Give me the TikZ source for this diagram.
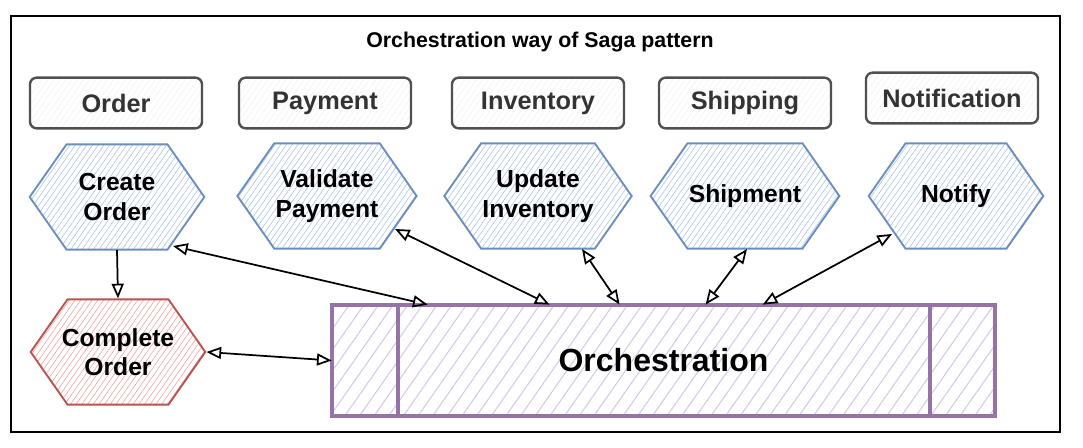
\documentclass[tikz,border=0pt]{standalone}
\usepackage{fontspec}
\setmainfont{Liberation Sans}
\usetikzlibrary{shapes.symbols,patterns.meta,arrows.meta,calc}
\definecolor{svcblue}{RGB}{108,142,191}
\definecolor{svchatch}{RGB}{175,200,235}
\definecolor{donered}{RGB}{184,84,80}
\definecolor{donehatch}{RGB}{240,170,168}
\definecolor{orchpurple}{RGB}{150,115,166}
\definecolor{orchhatch}{RGB}{215,200,228}
\definecolor{domaingray}{RGB}{80,80,80}
\definecolor{domainhatch}{RGB}{222,222,222}
\definecolor{domaintext}{RGB}{51,51,51}

\begin{document}
\begin{tikzpicture}[
    x=0.75pt, y=-0.75pt,
    domainbox/.style={rectangle, rounded corners=5pt, draw=domaingray, line width=1.8pt, minimum width=129pt, minimum height=38pt, text=domaintext, font=\fontsize{19}{22}\selectfont\bfseries, pattern={Lines[angle=55,distance=4pt,line width=0.3pt]}, pattern color=domainhatch},
    stepbox/.style={signal, signal to=east and west, signal pointer angle=110, draw=svcblue, line width=1.4pt, minimum width=131pt, minimum height=79pt, inner sep=1pt, align=center, font=\fontsize{18.5}{22}\selectfont\bfseries, pattern={Lines[angle=55,distance=3.5pt,line width=0.5pt]}, pattern color=svchatch},
    donebox/.style={stepbox, draw=donered, pattern color=donehatch, inner xsep=-5pt},
    link/.style={{Triangle[open,length=11pt,width=9pt]}-{Triangle[open,length=11pt,width=9pt]}, line width=1.3pt},
]
\useasboundingbox (0,0) rectangle (1083,448);

% Frame and title
\draw[line width=1.6pt] (11,16) rectangle (1060,432);
\node[font=\fontsize{16}{19}\selectfont\bfseries] (title) at (540,42) {Orchestration way of Saga pattern};

% Services
\node[domainbox] (order) at (116,103) {Order};
\node[domainbox] (payment) at (325,103) {Payment};
\node[domainbox] (inventory) at (538,103) {Inventory};
\node[domainbox] (shipping) at (745,103) {Shipping};
\node[domainbox] (notification) at (952,98) {Notification};

% Steps
\node[stepbox] (create) at (117,197) {Create\\Order};
\node[stepbox] (validate) at (327,196) {Validate\\Payment};
\node[stepbox] (update) at (538,196) {Update\\Inventory};
\node[stepbox] (shipment) at (745,196) {Shipment};
\node[stepbox] (notify) at (956,196) {Notify};
\node[donebox] (complete) at (118,352) {Complete\\Order};

% Orchestrator
\node[rectangle, draw=orchpurple, line width=3pt, minimum width=497pt, minimum height=83pt, font=\fontsize{24}{28}\selectfont\bfseries, pattern={Lines[angle=55,distance=9pt,line width=0.8pt]}, pattern color=orchhatch] (orch) at (663.5,360.5) {Orchestration};
\draw[orchpurple, line width=3pt] ($(orch.north west)+(66,0)$) -- ($(orch.south west)+(66,0)$);
\draw[orchpurple, line width=3pt] ($(orch.north east)+(-65,0)$) -- ($(orch.south east)+(-65,0)$);

% Arrows
\draw[-{Triangle[open,length=11pt,width=9pt]}, line width=1.3pt] (create.south) -- (complete.north);
\draw[link] ($(create.center)+(56,49)$) -- ($(orch.north west)+(96,0)$);
\draw[link] ($(validate.center)+(68,33)$) -- ($(orch.north west)+(218,0)$);
\draw[link] ($(update.center)+(44,53)$) -- ($(orch.north west)+(288,0)$);
\draw[link] ($(shipment.center)+(2,53)$) -- ($(orch.north west)+(374,0)$);
\draw[link] ($(notify.center)+(-64,38)$) -- ($(orch.north west)+(431,0)$);
\draw[link] (complete.east) -- (orch.west);

\end{tikzpicture}
\end{document}
